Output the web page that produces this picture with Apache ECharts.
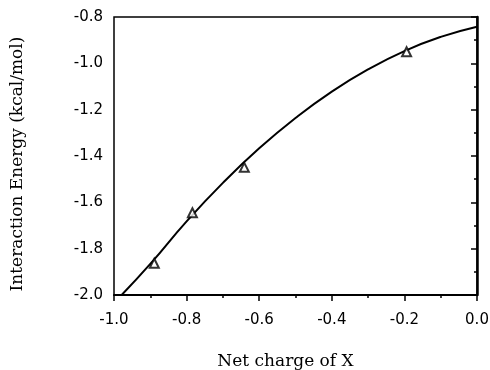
<!DOCTYPE html>
<html><head><meta charset="utf-8">
<script src="https://cdn.jsdelivr.net/npm/echarts@6/dist/echarts.min.js"></script>
<style>html,body{margin:0;padding:0;background:#fff}#c{width:490px;height:370px}</style>
</head><body><div id="c"></div>
<script>
const pointX = [-0.889, -0.784, -0.641, -0.194];
const pointY = [-1.863, -1.645, -1.449, -0.950];
const curveX = [-0.979, -0.9, -0.8, -0.7, -0.6, -0.5, -0.4, -0.3, -0.2, -0.1, 0.0];
const curveY = [-2.0, -1.866, -1.682, -1.516, -1.367, -1.236, -1.122, -1.026, -0.947, -0.886, -0.842];
const xTitle = 'Net charge of X';
const yTitle = 'Interaction Energy (kcal/mol)';

const chart = echarts.init(document.getElementById('c'));
const tickFont = {color:'#000', fontFamily:'DejaVu Sans', fontSize:15};
chart.setOption({
  animation:false,
  grid:{left:114, right:13, top:17, bottom:75, show:true, borderColor:'#000', borderWidth:1.5,
        containLabel:false, outerBoundsMode:'none'},
  xAxis:{type:'value', min:-1, max:0, interval:0.2,
    name:xTitle, nameLocation:'middle', nameGap:58,
    nameTextStyle:{color:'#000', fontFamily:'DejaVu Serif', fontSize:17, padding:[0,20,0,0]},
    axisLine:{lineStyle:{color:'#000', width:2}},
    axisTick:{inside:false, length:6, lineStyle:{color:'#000', width:1.5}},
    minorTick:{show:true, splitNumber:2, length:3, lineStyle:{color:'#000', width:1.5}},
    splitLine:{show:false},
    axisLabel:Object.assign({margin:18, formatter:v=>v.toFixed(1)}, tickFont)},
  yAxis:{type:'value', min:-2.0, max:-0.8, interval:0.2,
    name:yTitle, nameLocation:'middle', nameGap:88,
    nameTextStyle:{color:'#000', fontFamily:'DejaVu Serif', fontSize:17, padding:[0,16,0,0]},
    axisLine:{lineStyle:{color:'#000', width:2.5}},
    axisTick:{inside:false, length:6, lineStyle:{color:'#000', width:1.5}},
    minorTick:{show:true, splitNumber:2, length:3, lineStyle:{color:'#000', width:1.5}},
    splitLine:{show:false},
    axisLabel:Object.assign({margin:11, formatter:v=>v.toFixed(1)}, tickFont)},
  series:[
    {type:'line', smooth:true, showSymbol:false, data:curveX.map((x,i)=>[x,curveY[i]]),
     lineStyle:{color:'#000', width:2}, z:2},
    {type:'scatter', symbol:'triangle', symbolSize:9, data:pointX.map((x,i)=>[x,pointY[i]]),
     itemStyle:{color:'#fff', borderColor:'#000', borderWidth:2}, z:3}
  ]
});
</script></body></html>
